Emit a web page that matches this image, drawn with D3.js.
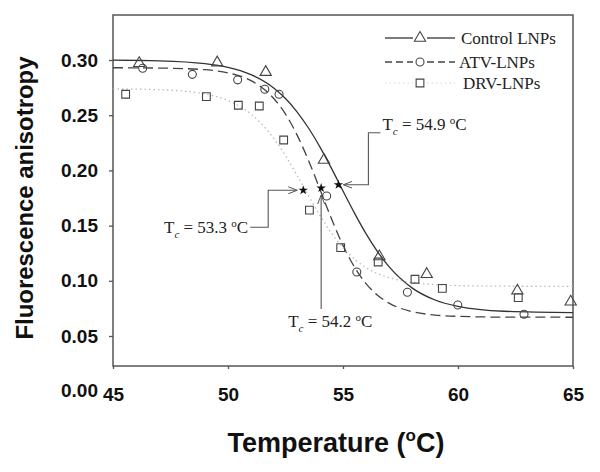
<!DOCTYPE html>
<html>
<head>
<meta charset="utf-8">
<script src="https://cdn.jsdelivr.net/npm/d3@7"></script>
<style>
  body { margin: 0; background: #fff; }
  svg { display: block; }
</style>
</head>
<body>
<div id="chart"></div>
<script>
// Fitted curves
const curveTemps = [45, 47, 49, 50, 51, 52, 52.5, 53, 53.5, 54, 54.5, 55, 55.5, 56, 56.5, 57, 58, 59, 60, 62, 65];
const controlCurve = [0.2998, 0.2992, 0.2967, 0.2933, 0.2867, 0.2744, 0.2651, 0.2531, 0.2384, 0.2211, 0.2018, 0.1814, 0.1613, 0.1427, 0.1264, 0.1128, 0.0936, 0.0826, 0.0768, 0.0724, 0.0712];
const atvCurve = [0.2930, 0.2927, 0.2912, 0.2883, 0.2813, 0.2649, 0.2510, 0.2322, 0.2090, 0.1827, 0.1562, 0.1321, 0.1124, 0.0975, 0.0870, 0.0798, 0.0721, 0.0690, 0.0678, 0.0671, 0.0670];
const drvCurve = [0.2738, 0.2731, 0.2692, 0.2632, 0.2511, 0.2287, 0.2133, 0.1956, 0.1771, 0.1591, 0.1431, 0.1300, 0.1197, 0.1121, 0.1066, 0.1029, 0.0985, 0.0965, 0.0957, 0.0951, 0.0950];

// Measured points
const controlTemps = [46.14, 49.53, 51.64, 54.17, 56.58, 58.64, 62.58, 64.9];
const controlVals = [0.297, 0.2976, 0.289, 0.2094, 0.122, 0.106, 0.091, 0.081];
const atvTemps = [46.29, 48.45, 50.42, 51.6, 52.22, 54.29, 55.6, 57.8, 59.99, 62.87];
const atvVals = [0.2925, 0.287, 0.282, 0.2735, 0.269, 0.1768, 0.108, 0.0896, 0.0781, 0.0697];
const drvTemps = [45.55, 49.06, 50.45, 51.36, 52.42, 53.54, 54.9, 56.53, 58.13, 59.32, 62.62];
const drvVals = [0.269, 0.2668, 0.259, 0.2583, 0.2275, 0.164, 0.130, 0.117, 0.1014, 0.0932, 0.0847];

// Transition temperatures (stars on the curves)
const tcLabels = ["54.9", "54.2", "53.3"];
const tcTemps = [54.8, 54.05, 53.27];
const tcVals = [0.187, 0.184, 0.182];

const seriesNames = ["Control LNPs", "ATV-LNPs", "DRV-LNPs"];
const xTicks = [45, 50, 55, 60, 65];
const yTicks = [0.05, 0.10, 0.15, 0.20, 0.25, 0.30];

const W = 600, H = 472;
const frame = { left: 113, right: 573, top: 15, bottom: 366 };

const svg = d3.select("#chart").append("svg")
    .attr("width", W)
    .attr("height", H);

// arrow head for the Tc call-outs
svg.append("defs").append("marker")
    .attr("id", "arrow")
    .attr("viewBox", "0 -5 10 10")
    .attr("refX", 9)
    .attr("refY", 0)
    .attr("markerWidth", 10)
    .attr("markerHeight", 10)
    .attr("markerUnits", "userSpaceOnUse")
    .attr("orient", "auto")
    .append("path")
    .attr("d", "M0,-3.5L9,0L0,3.5")
    .attr("fill", "none")
    .attr("stroke", "#555")
    .attr("stroke-width", 1);

// Scales
const xScale = d3.scaleLinear().domain([45, 65]).range([frame.left, frame.right]);
const yScale = d3.scaleLinear().domain([0, 0.30]).range([391.2, 60]);

const sans = "'Liberation Sans', Arial, Helvetica, sans-serif";
const serif = "'Liberation Serif', 'Times New Roman', serif";

// Frame
svg.append("rect")
    .attr("x", frame.left)
    .attr("y", frame.top)
    .attr("width", frame.right - frame.left)
    .attr("height", frame.bottom - frame.top)
    .attr("fill", "none")
    .attr("stroke", "#555")
    .attr("stroke-width", 1.5);

// Axes
const xAxis = d3.axisBottom(xScale).tickValues(xTicks).tickSize(3).tickPadding(19).tickFormat(d3.format("d"));
const yAxis = d3.axisLeft(yScale).tickValues(yTicks).tickSize(4).tickPadding(11).tickFormat(d3.format(".2f"));

const gx = svg.append("g")
    .attr("transform", `translate(0,${frame.bottom})`)
    .call(xAxis);
const gy = svg.append("g")
    .attr("transform", `translate(${frame.left},0)`)
    .call(yAxis);

[gx, gy].forEach(g => {
    g.select(".domain").remove();
    g.selectAll(".tick line").attr("stroke", "#555").attr("stroke-width", 1.3);
    g.selectAll(".tick text")
        .attr("fill", "#111")
        .style("font-family", sans)
        .style("font-weight", "bold")
        .style("font-size", "19px");
});

// the 0.00 label sits under the frame, next to 45
svg.append("text")
    .attr("x", frame.left - 15)
    .attr("y", yScale(0))
    .attr("dy", "0.32em")
    .attr("text-anchor", "end")
    .attr("fill", "#111")
    .style("font-family", sans)
    .style("font-weight", "bold")
    .style("font-size", "19px")
    .text(d3.format(".2f")(0));

// Axis titles
svg.append("text")
    .attr("transform", `translate(33,${yScale(0.175)}) rotate(-90)`)
    .attr("text-anchor", "middle")
    .attr("fill", "#111")
    .attr("textLength", 283)
    .attr("lengthAdjust", "spacingAndGlyphs")
    .style("font-family", sans)
    .style("font-weight", "bold")
    .style("font-size", "23px")
    .text("Fluorescence anisotropy");

const xt = svg.append("text")
    .attr("x", 336)
    .attr("y", 452)
    .attr("text-anchor", "middle")
    .attr("fill", "#111")
    .style("font-family", sans)
    .style("font-weight", "bold")
    .style("font-size", "27px");
xt.append("tspan").text("Temperature (");
xt.append("tspan").attr("dy", -11).style("font-size", "17px").text("o");
xt.append("tspan").attr("dy", 11).text("C)");

// Curves
const line = d3.line()
    .x(d => xScale(d[0]))
    .y(d => yScale(d[1]))
    .curve(d3.curveMonotoneX);

const curveStyles = [
    { vals: controlCurve, stroke: "#333", dash: null, width: 1.3 },
    { vals: atvCurve, stroke: "#444", dash: "10,5", width: 1.3 },
    { vals: drvCurve, stroke: "#bbb", dash: "1.5,3", width: 1.3 }
];

curveStyles.forEach(c => {
    svg.append("path")
        .datum(curveTemps.map((t, i) => [t, c.vals[i]]))
        .attr("fill", "none")
        .attr("stroke", c.stroke)
        .attr("stroke-width", c.width)
        .attr("stroke-dasharray", c.dash)
        .attr("d", line);
});

// Markers
const markerSets = [
    { temps: controlTemps, vals: controlVals, type: d3.symbolTriangle, size: 55 },
    { temps: atvTemps, vals: atvVals, type: d3.symbolCircle, size: 50 },
    { temps: drvTemps, vals: drvVals, type: d3.symbolSquare, size: 60 }
];

markerSets.forEach(m => {
    svg.append("g").selectAll("path")
        .data(m.temps.map((t, i) => [t, m.vals[i]]))
        .enter().append("path")
        .attr("transform", d => `translate(${xScale(d[0])},${yScale(d[1])})`)
        .attr("d", d3.symbol().type(m.type).size(m.size))
        .attr("fill", "none")
        .attr("stroke", "#444")
        .attr("stroke-width", 1.1);
});

// Stars at Tc
svg.append("g").selectAll("path")
    .data(tcTemps.map((t, i) => [t, tcVals[i]]))
    .enter().append("path")
    .attr("transform", d => `translate(${xScale(d[0])},${yScale(d[1])})`)
    .attr("d", d3.symbol().type(d3.symbolStar).size(28))
    .attr("fill", "#111");

// Tc call-outs
function tcText(x, y, anchor, value) {
    const t = svg.append("text")
        .attr("x", x)
        .attr("y", y)
        .attr("text-anchor", anchor)
        .attr("fill", "#222")
        .style("font-family", serif)
        .style("font-size", "17px");
    t.append("tspan").text("T");
    t.append("tspan").attr("dy", 5).style("font-style", "italic").style("font-size", "11px").text("c");
    t.append("tspan").attr("dy", -5).text(` = ${value} `);
    t.append("tspan").attr("dy", -6).style("font-size", "11px").text("o");
    t.append("tspan").attr("dy", 6).text("C");
}

function callout(points) {
    svg.append("path")
        .attr("d", d3.line()(points))
        .attr("fill", "none")
        .attr("stroke", "#555")
        .attr("stroke-width", 1.1)
        .attr("marker-end", "url(#arrow)");
}

// Control
let sx = xScale(tcTemps[0]), sy = yScale(tcVals[0]);
callout([[sx + 42, sy - 52], [sx + 30, sy - 52], [sx + 30, sy], [sx + 5, sy]]);
tcText(sx + 44, sy - 55, "start", tcLabels[0]);

// ATV
sx = xScale(tcTemps[1]); sy = yScale(tcVals[1]);
callout([[sx, sy + 121], [sx, sy + 7]]);
tcText(sx - 33, sy + 139, "start", tcLabels[1]);

// DRV
sx = xScale(tcTemps[2]); sy = yScale(tcVals[2]);
callout([[sx - 53, sy + 37], [sx - 35, sy + 37], [sx - 35, sy], [sx - 6, sy]]);
tcText(sx - 55, sy + 43, "end", tcLabels[2]);

// Legend
const legendRows = [38, 62, 83];
const legend = svg.append("g");
seriesNames.forEach((name, i) => {
    const y = legendRows[i];
    const st = curveStyles[i];
    [[385, 413], [427, 455]].forEach(seg => {
        legend.append("line")
            .attr("x1", seg[0]).attr("x2", seg[1])
            .attr("y1", y).attr("y2", y)
            .attr("stroke", i === 2 ? "#e4e4e4" : st.stroke)
            .attr("stroke-width", 1.3)
            .attr("stroke-dasharray", i === 1 ? "7,4" : st.dash);
    });
    legend.append("path")
        .attr("transform", `translate(420,${y})`)
        .attr("d", d3.symbol().type(markerSets[i].type).size(markerSets[i].size))
        .attr("fill", "white")
        .attr("stroke", "#444")
        .attr("stroke-width", 1.1);
    legend.append("text")
        .attr("x", [461, 459, 463][i])
        .attr("y", y)
        .attr("dy", "0.33em")
        .attr("fill", "#222")
        .style("font-family", serif)
        .style("font-size", "17px")
        .text(name);
});
</script>
</body>
</html>
